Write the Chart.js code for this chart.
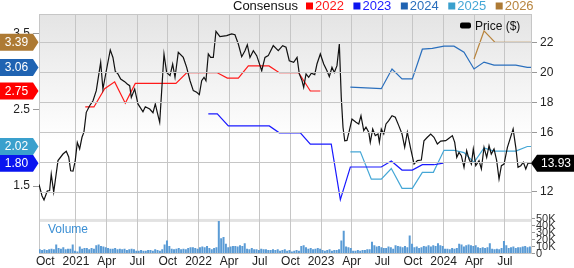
<!DOCTYPE html>
<html>
<head>
<meta charset="utf-8">
<script src="https://cdn.jsdelivr.net/npm/chart.js@4.4.1/dist/chart.umd.min.js"></script>
<style>
  html, body { margin: 0; padding: 0; background: #fff; }
  #wrap { width: 574px; height: 268px; position: relative; }
</style>
</head>
<body>
<div id="wrap"><canvas id="chart"></canvas></div>
<script>
// x values are months counted from Jan 2021 (0 = Jan 2021, 12 = Jan 2022 ...)
const quarterTicks = [-3, 0, 3, 6, 9, 12, 15, 18, 21, 24, 27, 30, 33, 36, 39, 42];
const quarterLabels = ['Oct', '2021', 'Apr', 'Jul', 'Oct', '2022', 'Apr', 'Jul', 'Oct', '2023', 'Apr', 'Jul', 'Oct', '2024', 'Apr', 'Jul'];

const epsTicks = [1.5, 2.5, 3.5];
const priceTicks = [12, 14, 16, 18, 20, 22];
const volumeTicks = [0, 10, 20, 30, 40, 50];
const volumeTickLabels = ['0', '10K', '20K', '30K', '40K', '50K'];

const priceMonths = [-3.62,-3.33,-3.13,-2.81,-2.58,-2.42,-2.18,-1.76,-1.27,-0.95,
  -0.71,-0.52,-0.29,-0.07,0.13,0.36,0.59,0.78,1.01,1.34,
  1.67,1.99,2.42,2.64,2.97,3.36,3.62,3.85,4.11,4.38,
  4.77,5.02,5.26,5.42,5.75,6.07,6.56,6.79,7.22,7.54,
  7.77,7.96,8.2,8.62,8.88,9.21,9.47,9.7,10.02,10.51,
  10.84,11.17,11.49,11.82,12.08,12.31,12.54,12.73,12.96,13.19,
  13.45,13.71,14.1,14.76,15.25,15.57,15.9,16.23,16.55,16.78,
  17.04,17.37,17.7,17.92,18.19,18.51,18.83,19.32,19.81,20.24,
  20.57,20.89,21.32,21.65,21.87,22.14,22.3,22.53,22.79,23.05,
  23.38,23.6,23.93,24.26,24.58,24.81,25.07,25.3,25.56,25.79,
  25.98,26.15,26.32,26.54,26.77,27.03,27.42,27.69,27.91,28.18,
  28.4,28.67,28.82,29.06,29.31,29.58,29.71,29.9,30.14,30.36,
  30.63,30.95,31.27,31.61,31.93,32.19,32.45,32.78,33.11,33.43,
  33.82,34.08,34.41,34.74,35.06,35.39,35.72,36.21,36.53,36.86,
  37.09,37.29,37.51,37.74,38.0,38.26,38.49,38.72,38.91,39.15,
  39.47,39.7,39.96,40.22,40.45,40.67,40.94,41.2,41.43,41.66,
  41.92,42.25,42.51,42.81,43.07,43.29,43.56,43.81,44.05,44.27,
  44.56];
const priceValues = [12.5,11.75,11.47,12.07,12.1,13.2,12.0,14.1,14.54,14.72,
  14.34,13.42,13.4,14.1,15.32,14.88,15.66,16.0,17.33,17.77,
  18.1,18.78,20.67,18.89,20.11,21.5,21.0,20.07,19.9,19.56,
  19.38,19.22,19.11,18.33,18.89,17.89,17.37,17.7,17.55,17.3,
  17.89,17.33,16.66,21.23,20.0,19.78,20.56,19.67,21.34,21.0,
  20.34,19.44,18.78,18.67,18.51,19.44,19.67,19.44,21.23,21.0,
  21.0,22.75,22.39,22.46,22.57,22.52,21.9,21.05,21.45,21.85,
  21.0,21.45,21.12,20.67,20.11,21.0,21.12,21.79,21.45,21.79,
  21.68,20.78,20.67,21.0,19.9,19.44,19.0,19.9,19.67,19.94,
  19.85,20.56,21.23,20.56,20.11,19.71,20.34,20.0,20.45,21.9,
  18.33,16.33,15.43,15.45,16.1,16.88,16.66,16.55,17.1,16.1,
  16.33,16.0,15.32,16.21,15.77,15.88,15.32,16.21,15.88,16.55,
  16.77,17.1,17.0,16.44,15.88,14.99,16.0,14.88,13.87,14.1,
  14.14,15.43,15.66,15.88,15.66,15.21,15.4,15.43,15.6,15.77,
  15.32,14.32,14.65,14.43,13.65,14.77,14.2,13.87,14.88,13.76,
  14.1,13.54,14.99,14.32,15.1,14.54,14.88,14.1,12.87,13.76,
  13.87,14.99,15.55,16.21,14.99,13.65,13.76,13.99,13.54,13.93,
  13.93];

const eps2022Months = [0.91,1.76,2.81,3.79,4.83,5.81,9.79,10.84,13.84,14.82,15.9,16.88,18.9,19.91,21.81,22.95,23.93];
const eps2022Values = [2.54,2.54,2.78,2.87,2.59,2.85,2.85,2.99,2.99,2.92,2.92,3.08,3.08,2.99,2.99,2.75,2.75];
const eps2023Months = [12.96,13.84,14.92,18.93,19.91,21.97,22.95,25.0,25.89,26.87,29.9,30.88,31.93,32.94,33.92,35.06,35.97];
const eps2023Values = [2.45,2.45,2.29,2.29,2.20,2.20,2.05,2.05,1.32,1.75,1.75,1.83,1.71,1.71,1.78,1.78,1.80];
const eps2024Months = [26.87,29.9,30.95,31.93,32.94,33.92,34.9,36.04,37.02,38.0,38.98,39.96,40.94,43.07,44.2,44.56];
const eps2024Values = [2.80,2.78,3.04,2.91,2.91,3.30,3.31,3.34,3.34,3.26,3.04,3.13,3.09,3.09,3.06,3.06];
const eps2025Months = [26.87,27.85,28.92,29.9,30.88,31.93,32.94,33.92,35.0,36.04,37.02,38.0,38.98,39.96,40.94,43.07,44.2,44.56];
const eps2025Values = [1.95,1.95,1.59,1.59,1.73,1.47,1.47,1.68,1.68,1.97,1.97,1.94,1.81,2.00,1.96,1.96,2.02,2.02];
const eps2026Months = [38.98,39.96,41.04,43.07,44.56];
const eps2026Values = [3.17,3.54,3.39,3.39,3.39];

// weekly volume in thousands, first bar mid Sep 2020
const volumeStart = -3.55;
const volumeValues = [6,5,6,5,6,7,6,13,8,7,9,6,7,7,13,4,3,10,7,8,8,6,8,7,12,13,11,10,9,
  8,7,7,8,6,7,6,7,5,6,7,6,4,4,5,4,4,5,5,4,6,5,4,6,13,19,11,
  7,6,7,8,6,7,6,8,9,9,8,7,9,10,9,11,8,6,8,9,47,22,24,14,
  9,10,11,11,10,12,11,15,7,6,8,6,6,5,7,6,6,5,5,6,5,6,4,5,6,
  4,5,3,4,5,4,11,12,9,7,8,6,7,8,7,5,4,5,6,4,5,5,6,19,33,10,9,8,
  4,4,5,4,5,5,6,6,17,12,10,11,9,8,8,10,9,7,12,11,10,9,11,9,26,14,
  9,10,8,9,11,10,12,10,12,11,15,12,11,7,7,6,8,7,8,14,13,
  10,12,13,12,11,12,9,8,9,8,9,15,7,6,7,6,8,18,12,8,9,10,8,9,9,10,11,9,10];

const seriesNames = ['2022', '2023', '2024', '2025', '2026'];
const seriesColors = ['#ff1a1a', '#1a1aff', '#2a6fbd', '#45a7d6', '#b8853f'];
const tagColors = ['#ff0000', '#0a14f0', '#1f63b2', '#3aa0cd', '#ad7a34'];
const epsMonths = [eps2022Months, eps2023Months, eps2024Months, eps2025Months, eps2026Months];
const epsValues = [eps2022Values, eps2023Values, eps2024Values, eps2025Values, eps2026Values];

const FONT = "'Liberation Sans', Arial, sans-serif";
const GRID = '#c6c6c6';

function pairs(xs, ys) {
    return xs.map((x, i) => ({ x: x, y: ys[i] }));
}

const datasets = [];
datasets.push({
    label: 'Price ($)',
    data: pairs(priceMonths, priceValues),
    yAxisID: 'yPrice',
    borderColor: '#111',
    borderWidth: 1.2,
    pointRadius: 0,
    order: 0
});
seriesNames.forEach((name, i) => {
    datasets.push({
        label: name,
        data: pairs(epsMonths[i], epsValues[i]),
        yAxisID: 'yEps',
        borderColor: seriesColors[i],
        borderWidth: 1.2,
        pointRadius: 0,
        order: 1
    });
});
datasets.push({
    type: 'bar',
    label: 'Volume',
    data: volumeValues.map((v, i) => ({ x: volumeStart + i * 12 / 52, y: v })),
    yAxisID: 'yVol',
    backgroundColor: '#5a9bd5',
    borderWidth: 0,
    barPercentage: 0.85,
    categoryPercentage: 1,
    order: 2
});

function tagLeft(ctx, y, color, text) {
    ctx.fillStyle = color;
    ctx.beginPath();
    ctx.moveTo(0, y - 8.5);
    ctx.lineTo(33, y - 8.5);
    ctx.lineTo(38.5, y);
    ctx.lineTo(33, y + 8.5);
    ctx.lineTo(0, y + 8.5);
    ctx.closePath();
    ctx.fill();
    ctx.fillStyle = '#fff';
    ctx.font = '12px ' + FONT;
    ctx.textAlign = 'center';
    ctx.textBaseline = 'middle';
    ctx.fillText(text, 16.5, y + 0.5);
}

const decorations = {
    id: 'decorations',
    beforeDraw(chart) {
        const { ctx, chartArea } = chart;
        const yPrice = chart.scales.yPrice;
        ctx.save();
        const g = ctx.createLinearGradient(0, chartArea.top, 0, 140);
        g.addColorStop(0, '#e4e4e4');
        g.addColorStop(1, '#ffffff');
        ctx.fillStyle = g;
        ctx.fillRect(chartArea.left, chartArea.top, chartArea.width, 140 - chartArea.top);
        // separator between price and volume panels
        const sep = yPrice.getPixelForValue(10.2);
        ctx.fillStyle = '#e2e2e2';
        ctx.fillRect(chartArea.left, sep, chartArea.width, 3);
        ctx.restore();
    },
    afterDatasetsDraw(chart) {
        // horizontal grid of the price panel
        const { ctx, chartArea } = chart;
        const yPrice = chart.scales.yPrice;
        ctx.save();
        ctx.strokeStyle = GRID;
        ctx.lineWidth = 1;
        priceTicks.forEach(v => {
            const y = Math.round(yPrice.getPixelForValue(v)) + 0.5;
            ctx.beginPath();
            ctx.moveTo(chartArea.left, y);
            ctx.lineTo(chartArea.right, y);
            ctx.stroke();
        });
        ctx.restore();
    },
    afterDraw(chart) {
        const { ctx, chartArea } = chart;
        const yEps = chart.scales.yEps;
        const yPrice = chart.scales.yPrice;
        const yVol = chart.scales.yVol;
        ctx.save();
        // frame top line
        ctx.strokeStyle = GRID;
        ctx.lineWidth = 1;
        ctx.beginPath();
        ctx.moveTo(chartArea.left, chartArea.top + 0.5);
        ctx.lineTo(chartArea.right, chartArea.top + 0.5);
        ctx.stroke();

        // volume axis labels
        ctx.font = '11px ' + FONT;
        ctx.fillStyle = '#333';
        ctx.textAlign = 'left';
        ctx.textBaseline = 'middle';
        volumeTicks.forEach((v, i) => {
            ctx.fillText(volumeTickLabels[i], chartArea.right + 5, yVol.getPixelForValue(v));
        });

        // consensus legend
        ctx.font = '13px ' + FONT;
        ctx.textBaseline = 'alphabetic';
        ctx.fillStyle = '#111';
        ctx.fillText('Consensus', 233, 10);
        let x = 306;
        seriesNames.forEach((name, i) => {
            ctx.fillStyle = tagColors[i];
            ctx.fillRect(x, 2.5, 7, 7);
            ctx.fillStyle = seriesColors[i];
            ctx.fillText(name, x + 9, 10);
            x += 9 + ctx.measureText(name).width + 9.5;
        });

        // price legend inside plot
        ctx.font = '12px ' + FONT;
        ctx.fillStyle = '#000';
        ctx.beginPath();
        ctx.roundRect(460, 22.5, 11, 6, 2);
        ctx.fill();
        ctx.fillStyle = '#111';
        ctx.fillText('Price ($)', 475, 30);

        // volume caption
        ctx.fillStyle = '#3b8fd4';
        ctx.fillText('Volume', 48, 233);

        // latest consensus tags
        seriesNames.forEach((name, i) => {
            const vals = epsValues[i];
            const last = vals[vals.length - 1];
            tagLeft(ctx, yEps.getPixelForValue(last), tagColors[i], last.toFixed(2));
        });

        // latest price tag
        const lastPrice = priceValues[priceValues.length - 1];
        const py = yPrice.getPixelForValue(lastPrice);
        ctx.fillStyle = '#000';
        ctx.beginPath();
        ctx.moveTo(chartArea.right, py);
        ctx.lineTo(chartArea.right + 6, py - 8.5);
        ctx.lineTo(574, py - 8.5);
        ctx.lineTo(574, py + 8.5);
        ctx.lineTo(chartArea.right + 6, py + 8.5);
        ctx.closePath();
        ctx.fill();
        ctx.fillStyle = '#fff';
        ctx.textAlign = 'center';
        ctx.textBaseline = 'middle';
        ctx.fillText(lastPrice.toFixed(2), 556, py + 0.5);
        ctx.restore();
    }
};

new Chart(document.getElementById('chart'), {
    type: 'line',
    data: { datasets: datasets },
    plugins: [decorations],
    options: {
        responsive: true,
        maintainAspectRatio: false,
        animation: false,
        layout: { padding: { top: 14, left: 0, right: 0, bottom: 0 } },
        plugins: { legend: { display: false }, tooltip: { enabled: false } },
        elements: { line: { tension: 0 } },
        scales: {
            x: {
                type: 'linear',
                min: -3.62,
                max: 44.56,
                offset: false,
                afterBuildTicks: s => { s.ticks = quarterTicks.map(v => ({ value: v })); },
                afterFit: s => { s.height = 14.5; },
                ticks: {
                    autoSkip: false,
                    maxRotation: 0,
                    padding: 1,
                    color: '#222',
                    font: { size: 12, family: FONT },
                    callback: v => quarterLabels[quarterTicks.indexOf(v)]
                },
                grid: {
                    offset: false,
                    color: c => (c.tick && c.tick.value === -3) ? 'rgba(0,0,0,0)' : GRID,
                    drawTicks: false
                },
                border: { color: GRID }
            },
            yEps: {
                position: 'left',
                min: 0.612,
                max: 3.763,
                afterBuildTicks: s => { s.ticks = epsTicks.map(v => ({ value: v })); },
                afterFit: s => { s.width = 39; },
                ticks: {
                    padding: 3,
                    color: '#222',
                    font: { size: 12, family: FONT },
                    callback: v => v.toFixed(1)
                },
                grid: { drawOnChartArea: false, tickLength: 6, color: '#999' },
                border: { color: GRID }
            },
            yVol: {
                position: 'right',
                weight: 0,
                min: 0,
                max: 347.1,
                afterBuildTicks: s => { s.ticks = volumeTicks.map(v => ({ value: v })); },
                afterFit: s => { s.width = 0; },
                ticks: { display: false },
                grid: { drawOnChartArea: false, tickLength: 4, color: '#999' },
                border: { display: false }
            },
            yPrice: {
                position: 'right',
                weight: 1,
                min: 7.886,
                max: 23.906,
                afterBuildTicks: s => { s.ticks = priceTicks.map(v => ({ value: v })); },
                afterFit: s => { s.width = 43; },
                ticks: {
                    padding: 3,
                    color: '#222',
                    font: { size: 12, family: FONT },
                    callback: v => String(v)
                },
                grid: { drawOnChartArea: false, tickLength: 6, color: '#999' },
                border: { color: GRID }
            }
        }
    }
});
</script>
</body>
</html>
